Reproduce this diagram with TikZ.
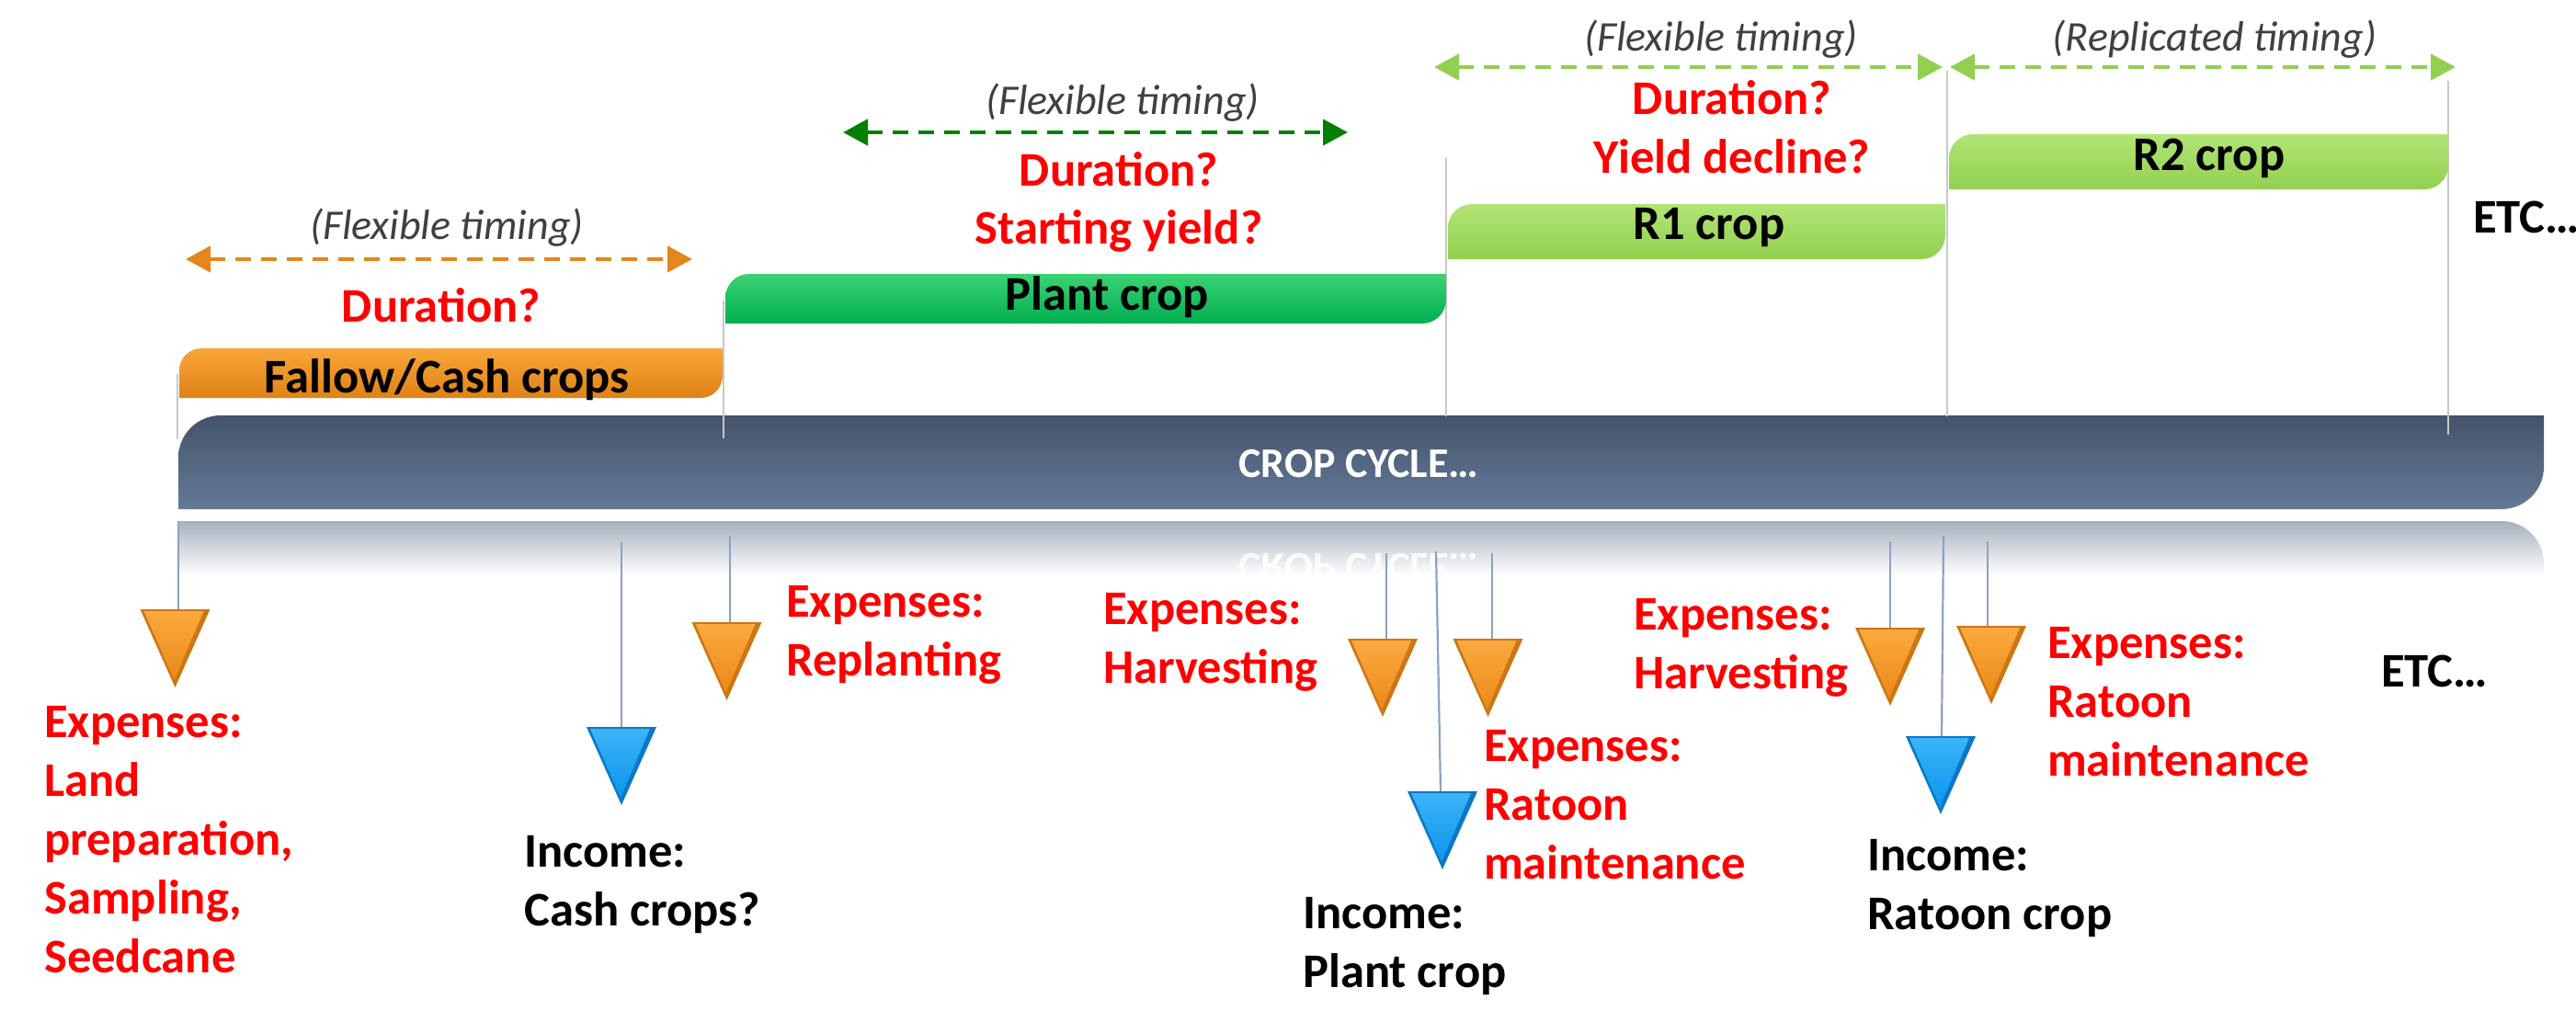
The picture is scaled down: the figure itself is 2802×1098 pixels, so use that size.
\documentclass[tikz,border=0pt]{standalone}
\usepackage{fontspec}
\setmainfont{Carlito}
\usetikzlibrary{arrows.meta}

% palette
\definecolor{expred}{RGB}{255,0,0}
\definecolor{timegray}{RGB}{64,64,64}
\definecolor{fallowtop}{RGB}{247,166,58}
\definecolor{fallowmain}{RGB}{224,130,22}
\definecolor{planttop}{RGB}{60,210,115}
\definecolor{plantmain}{RGB}{0,174,80}
\definecolor{ratoontop}{RGB}{178,228,118}
\definecolor{ratoonmain}{RGB}{146,208,80}
\definecolor{cycletop}{RGB}{68,83,107}
\definecolor{cyclebot}{RGB}{100,122,152}
\definecolor{reflecttop}{RGB}{168,176,190}
\definecolor{guidegray}{RGB}{200,200,200}
\definecolor{dropblue}{RGB}{140,162,192}
\definecolor{arroworange}{RGB}{227,134,27}
\definecolor{arrowdark}{RGB}{0,128,0}
\definecolor{arrowlight}{RGB}{146,208,80}
\definecolor{orangeedge}{RGB}{205,118,18}
\definecolor{orangetop}{RGB}{250,170,62}
\definecolor{orangebot}{RGB}{236,136,26}
\definecolor{blueedge}{RGB}{10,120,200}
\definecolor{bluetop}{RGB}{60,180,247}
\definecolor{bluebot}{RGB}{12,148,236}

% bar with rounded top-left and bottom-right corners: x1, top, x2, bottom, radius
\newcommand\diagbarpath[5]{(#1,#4) -- ({#1},{#2+#5}) .. controls ({#1},{#2+0.448*#5}) and ({#1+0.448*#5},{#2}) .. ({#1+#5},{#2}) -- (#3,#2) -- ({#3},{#4-#5}) .. controls ({#3},{#4-0.448*#5}) and ({#3-0.448*#5},{#4}) .. ({#3-#5},{#4}) -- cycle}

% downward pointing marker: name, centre x, top y, colour family
\newcommand\droptri[4]{%
  \path[fill=#4edge] ({#2-38},#3) -- ({#2+38},#3) -- (#2,{#3+85}) -- cycle;
  \path[top color=#4top, bottom color=#4bot] ({#2-34},{#3+2}) -- ({#2+31},{#3+2}) -- ({#2-1},{#3+77}) -- cycle;
  \coordinate (#1) at (#2,#3);}

\newcommand\linesof[1]{\begin{tabular}[t]{@{}l@{}}#1\end{tabular}}

\tikzset{
  lbl/.style={inner sep=0pt, font=\bfseries\fontsize{52.6}{64}\selectfont},
  expense/.style={lbl, text=expred, anchor=base west},
  income/.style={lbl, text=black, anchor=base west},
  barlabel/.style={lbl, text=black, anchor=base},
  question/.style={lbl, text=expred, anchor=base},
  cycletext/.style={inner sep=0pt, anchor=base, text=white, font=\bfseries\fontsize{46}{56}\selectfont},
  timing/.style={inner sep=0pt, anchor=base, text=timegray, font=\itshape\fontsize{46}{56}\selectfont},
  spanarrow/.style={line width=4.5pt, dash pattern=on 17pt off 11pt,
    {Triangle[length=27pt,width=28pt]}-{Triangle[length=27pt,width=28pt]}},
  guideline/.style={draw=guidegray, line width=2.5pt},
  dropline/.style={draw=dropblue, line width=2.2pt},
}

\begin{document}
\begin{tikzpicture}[x=1pt, y=-1pt]
\useasboundingbox (0,0) rectangle (2802,1098);
\fill[white] (0,0) rectangle (2802,1098);

% crop cycle bar and its reflection
\path[top color=cycletop, bottom color=cyclebot] \diagbarpath{194}{452}{2767}{554}{46};
\node[cycletext] (cycle) at (1478,519) {CROP CYCLE…};
\path[top color=reflecttop, bottom color=white] (194,567) -- (2721,567) .. controls (2746.4,567) and (2767,587.6) .. (2767,613) -- (2767,626) -- (194,626) -- cycle;
\begin{scope}
  \clip (194,567) rectangle (2767,626);
  \begin{scope}[shift={(1478,602)}, yscale=-1]
    \node[cycletext, transform shape, opacity=0.85] (mirror) at (0,0) {CROP CYCLE…};
  \end{scope}
\end{scope}

% phase boundaries
\coordinate (g1a) at (193,407);  \coordinate (g1b) at (193,478);
\coordinate (g2a) at (787,327);  \coordinate (g2b) at (787,477);
\coordinate (g3a) at (1573,172); \coordinate (g3b) at (1573,453);
\coordinate (g4a) at (2118,77);  \coordinate (g4b) at (2118,453);
\coordinate (g5a) at (2663,88);  \coordinate (g5b) at (2663,473);
\foreach \g in {g1,g2,g3,g4,g5} \draw[guideline] (\g a) -- (\g b);

% crop phases
\path[top color=fallowtop, middle color=fallowmain, bottom color=fallowmain] \diagbarpath{195}{379}{786}{433}{24};
\path[top color=planttop, middle color=plantmain, bottom color=plantmain] \diagbarpath{789}{298}{1573}{352}{26};
\path[top color=ratoontop, middle color=ratoonmain, bottom color=ratoonmain] \diagbarpath{1575}{222}{2116}{282}{26};
\path[top color=ratoontop, middle color=ratoonmain, bottom color=ratoonmain] \diagbarpath{2120}{146}{2663}{206}{26};
\node[barlabel] (fallow) at (486,427) {Fallow/Cash crops};
\node[barlabel] (plant) at (1204,337) {Plant crop};
\node[barlabel] (r1) at (1859,260) {R1 crop};
\node[barlabel] (r2) at (2403,185) {R2 crop};

% timing spans
\coordinate (s1l) at (202,282);  \coordinate (s1r) at (753,282);
\coordinate (s2l) at (917,144);  \coordinate (s2r) at (1466,144);
\coordinate (s3l) at (1560,73);  \coordinate (s3r) at (2113,73);
\coordinate (s4l) at (2121,73);  \coordinate (s4r) at (2671,73);
\draw[spanarrow, arroworange] (s1l) -- (s1r);
\draw[spanarrow, arrowdark] (s2l) -- (s2r);
\draw[spanarrow, arrowlight] (s3l) -- (s3r);
\draw[spanarrow, arrowlight] (s4l) -- (s4r);

\node[timing] (ft1) at (486,260) {(Flexible timing)};
\node[timing] (ft2) at (1221,124) {(Flexible timing)};
\node[timing] (ft3) at (1872,55) {(Flexible timing)};
\node[timing] (rep) at (2409,55) {(Replicated timing)};

\node[question] (dur1) at (480,350) {Duration?};
\node[question] (dur2) at (1217,202) {Duration?};
\node[question] (start) at (1217,265) {Starting yield?};
\node[question] (dur3) at (1884,124) {Duration?};
\node[question] (decl) at (1884,188) {Yield decline?};
\node[income] (etc1) at (2690,253) {ETC…};

% cash flow markers
\coordinate (d1) at (194,567);   \coordinate (d2) at (676,590);   \coordinate (d3) at (794,583);
\coordinate (dA) at (1508,602);  \coordinate (dB) at (1562,600);  \coordinate (dC) at (1623,602);
\coordinate (dD) at (2056,589);  \coordinate (dE) at (2114,583);  \coordinate (dF) at (2162,589);
\coordinate (tBtop) at (1567,861); \coordinate (tEtop) at (2112,801);

\droptri{t1}{190.5}{663}{orange}
\droptri{t2}{676}{791}{blue}
\droptri{t3}{790.5}{677}{orange}
\droptri{tA}{1504}{695}{orange}
\droptri{tB}{1569}{861}{blue}
\droptri{tC}{1618.5}{695}{orange}
\droptri{tD}{2056}{683}{orange}
\droptri{tE}{2111}{801}{blue}
\droptri{tF}{2166}{681}{orange}

\draw[dropline] (d1) -- (d1 |- t1);
\draw[dropline] (d2) -- (d2 |- t2);
\draw[dropline] (d3) -- (d3 |- t3);
\draw[dropline] (dA) -- (dA |- tA);
\draw[dropline] (dB) -- (tBtop);
\draw[dropline] (dC) -- (dC |- tC);
\draw[dropline] (dD) -- (dD |- tD);
\draw[dropline] (dE) -- (tEtop);
\draw[dropline] (dF) -- (dF |- tF);

% cash flow labels
\node[expense] (e1) at (48,802) {\linesof{Expenses:\\Land\\preparation,\\Sampling,\\Seedcane}};
\node[income] (i1) at (570,943) {\linesof{Income:\\Cash crops?}};
\node[expense] (e2) at (855,671) {\linesof{Expenses:\\Replanting}};
\node[expense] (e3) at (1200,679) {\linesof{Expenses:\\Harvesting}};
\node[expense] (e4) at (1614,828) {\linesof{Expenses:\\Ratoon\\maintenance}};
\node[income] (i2) at (1417,1010) {\linesof{Income:\\Plant crop}};
\node[expense] (e5) at (1777,685) {\linesof{Expenses:\\Harvesting}};
\node[expense] (e6) at (2227,716) {\linesof{Expenses:\\Ratoon\\maintenance}};
\node[income] (i3) at (2031,947) {\linesof{Income:\\Ratoon crop}};
\node[income] (etc2) at (2590,747) {ETC…};
\end{tikzpicture}
\end{document}
